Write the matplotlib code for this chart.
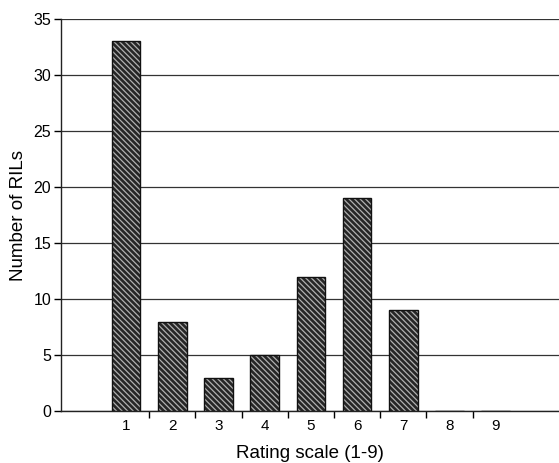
import matplotlib
matplotlib.use("Agg")
import matplotlib.pyplot as plt

# data
ratings = [1, 2, 3, 4, 5, 6, 7, 8, 9]
counts = [33, 8, 3, 5, 12, 19, 9, 0, 0]

plt.rcParams['font.family'] = ['Liberation Sans', 'DejaVu Sans']
plt.rcParams['hatch.linewidth'] = 0.9

fig = plt.figure(figsize=(5.59, 4.63), dpi=100)
ax = fig.add_axes([0.109, 0.112, 0.891, 0.847])

# dark fill with light diagonal hatch, then a black outline on top
ax.bar(ratings, counts, width=0.62, facecolor='#262626', edgecolor='#b0b0b0',
       hatch='\\\\\\\\\\\\', linewidth=0, zorder=3)
ax.bar(ratings, counts, width=0.62, facecolor='none', edgecolor='#111111',
       linewidth=1.0, zorder=4)

ax.set_xlim(-0.41, 10.37)
ax.set_ylim(0, 35)
ax.set_yticks(range(0, 36, 5))
ax.set_xticks(ratings)
ax.set_xticks([r + 0.5 for r in ratings[:-1]], minor=True)
ax.tick_params(axis='x', which='major', length=0, labelsize=11, pad=6)
ax.tick_params(axis='x', which='minor', length=5, width=1, direction='out')
ax.tick_params(axis='y', length=5, width=1, labelsize=11.5, pad=2)

ax.grid(axis='y', color='#333333', linewidth=0.9, zorder=0)
for s in ['top', 'right']:
    ax.spines[s].set_visible(False)
for s in ['left', 'bottom']:
    ax.spines[s].set_linewidth(1.0)
    ax.spines[s].set_color('#222222')

ax.set_xlabel('Rating scale (1-9)', fontsize=13.5, labelpad=8)
ax.set_ylabel('Number of RILs', fontsize=13.5, labelpad=5)

fig.savefig('out.png', dpi=100)
